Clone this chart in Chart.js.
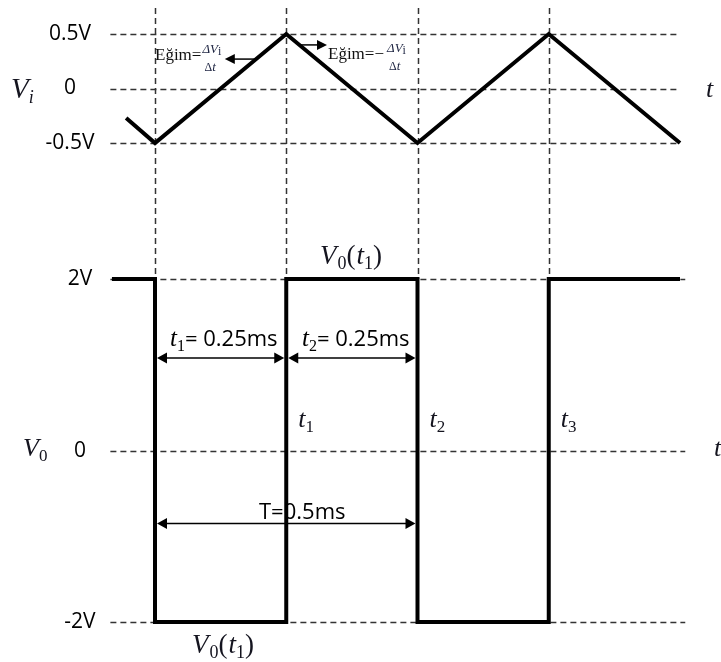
<!DOCTYPE html>
<html>
<head>
<meta charset="utf-8">
<script src="https://cdn.jsdelivr.net/npm/chart.js@4.4.1/dist/chart.umd.min.js"></script>
<style>
  html, body { margin: 0; padding: 0; background: #fff; }
  #wrap { position: relative; width: 721px; height: 662px; }
</style>
</head>
<body>
<div id="wrap"><canvas id="c" width="721" height="662"></canvas></div>
<script>
// Time in ms. Input triangle wave Vi and comparator output V0.
const viTimes  = [-0.055, 0, 0.25, 0.5, 0.75, 1.0];
const viValues = [-0.27, -0.5, 0.5, -0.5, 0.5, -0.5];

const voTimes  = [-0.082, 0, 0, 0.25, 0.25, 0.5, 0.5, 0.75, 0.75, 1.0];
const voValues = [2, 2, -2, -2, 2, 2, -2, -2, 2, 2];

// switching instants (vertical guides)
const edgeTimes = [0, 0.25, 0.5, 0.75];

const viTicks = [0.5, 0, -0.5];
const viTickLabels = ['0.5V', '0', '-0.5V'];
const voTicks = [2, 0, -2];
const voTickLabels = ['2V', '0', '-2V'];

// durations marked with dimension arrows (ms)
const t1Span = [0, 0.25];
const t2Span = [0.25, 0.5];
const periodSpan = [0, 0.5];

const SERIF = '"Liberation Serif", "DejaVu Serif", serif';
const SANS = '"Open Sans", "Noto Sans", sans-serif';
const INK = '#000';
const MATH = '#14141f';

function drawRuns(ctx, x, y, runs, color) {
  ctx.save();
  ctx.fillStyle = color || MATH;
  ctx.textBaseline = 'alphabetic';
  ctx.textAlign = 'left';
  let cx = x;
  for (const r of runs) {
    ctx.font = r.f;
    ctx.fillText(r.t, cx, y + (r.dy || 0));
    cx += ctx.measureText(r.t).width + (r.gap || 0);
  }
  ctx.restore();
  return cx;
}

function arrowHead(ctx, tipX, tipY, dir, len, half) {
  ctx.beginPath();
  ctx.moveTo(tipX, tipY);
  ctx.lineTo(tipX - dir * len, tipY - half);
  ctx.lineTo(tipX - dir * len, tipY + half);
  ctx.closePath();
  ctx.fill();
}

function dimArrow(ctx, x1, x2, y) {
  ctx.save();
  ctx.strokeStyle = INK; ctx.fillStyle = INK; ctx.lineWidth = 1.5;
  ctx.beginPath(); ctx.moveTo(x1 + 8, y); ctx.lineTo(x2 - 8, y); ctx.stroke();
  arrowHead(ctx, x1, y, -1, 10, 5.5);
  arrowHead(ctx, x2, y, 1, 10, 5.5);
  ctx.restore();
}

function oneArrow(ctx, xFrom, xTo, y) {
  ctx.save();
  ctx.strokeStyle = INK; ctx.fillStyle = INK; ctx.lineWidth = 1.5;
  const dir = xTo > xFrom ? 1 : -1;
  ctx.beginPath(); ctx.moveTo(xFrom, y); ctx.lineTo(xTo - dir * 8, y); ctx.stroke();
  arrowHead(ctx, xTo, y, dir, 10, 5);
  ctx.restore();
}

const guides = {
  id: 'guides',
  beforeDatasetsDraw(chart) {
    const { ctx, scales: { x, yVi, yVo } } = chart;
    ctx.save();
    ctx.strokeStyle = '#333';
    ctx.lineWidth = 1.5;
    ctx.setLineDash([6, 4]);
    const gx0 = x.getPixelForValue(-0.085);
    const gx1 = x.getPixelForValue(1.0);
    for (const v of viTicks) {
      const py = Math.round(yVi.getPixelForValue(v)) + 0.5;
      ctx.beginPath(); ctx.moveTo(gx0, py); ctx.lineTo(gx1, py); ctx.stroke();
    }
    for (const v of voTicks) {
      const py = Math.round(yVo.getPixelForValue(v)) + 0.5;
      ctx.beginPath(); ctx.moveTo(gx0, py); ctx.lineTo(x.getPixelForValue(1.01), py); ctx.stroke();
    }
    const top = chart.chartArea.top + 8;
    const bottom = yVo.getPixelForValue(2);
    for (const t of edgeTimes) {
      const px = Math.round(x.getPixelForValue(t)) + 0.5;
      ctx.beginPath(); ctx.moveTo(px, top); ctx.lineTo(px, bottom); ctx.stroke();
    }
    ctx.restore();
  },
  afterDatasetsDraw(chart) {
    const { ctx, scales: { x, yVi, yVo } } = chart;

    // tick labels
    ctx.save();
    ctx.fillStyle = INK;
    ctx.font = '21px ' + SANS;
    ctx.textAlign = 'center';
    ctx.textBaseline = 'middle';
    viTicks.forEach((v, i) => ctx.fillText(viTickLabels[i], 70, yVi.getPixelForValue(v)));
    voTicks.forEach((v, i) => ctx.fillText(voTickLabels[i], 80, yVo.getPixelForValue(v)));
    ctx.restore();

    // axis names
    drawRuns(ctx, 11, yVi.getPixelForValue(0) + 9, [
      { t: 'V', f: 'italic 29px ' + SERIF },
      { t: 'i', f: 'italic 18px ' + SERIF, dy: 5 }
    ]);
    drawRuns(ctx, 23, yVo.getPixelForValue(0) + 5, [
      { t: 'V', f: 'italic 26px ' + SERIF },
      { t: '0', f: '17px ' + SERIF, dy: 5 }
    ]);
    drawRuns(ctx, 706, yVi.getPixelForValue(0) + 8, [{ t: 't', f: 'italic 26px ' + SERIF }]);
    drawRuns(ctx, 714, yVo.getPixelForValue(0) + 5, [{ t: 't', f: 'italic 26px ' + SERIF }]);

    // switching instants
    const instants = [['1', 0.25], ['2', 0.5], ['3', 0.75]];
    for (const [s, t] of instants) {
      drawRuns(ctx, x.getPixelForValue(t) + 12, 427, [
        { t: 't', f: 'italic 26px ' + SERIF },
        { t: s, f: '17px ' + SERIF, dy: 5 }
      ]);
    }

    // output level labels
    const v0t1 = [
      { t: 'V', f: 'italic 27px ' + SERIF, gap: 1 },
      { t: '0', f: '18px ' + SERIF, dy: 5 },
      { t: '(', f: '27px ' + SERIF, gap: 1 },
      { t: 't', f: 'italic 27px ' + SERIF },
      { t: '1', f: '18px ' + SERIF, dy: 5 },
      { t: ')', f: '27px ' + SERIF }
    ];
    drawRuns(ctx, 320, yVo.getPixelForValue(2) - 15, v0t1);
    drawRuns(ctx, 192, yVo.getPixelForValue(-2) + 31, v0t1);

    // dimension arrows
    const edgeHalf = 2;
    const dimY = yVo.getPixelForValue(1.08);
    dimArrow(ctx, x.getPixelForValue(t1Span[0]) + edgeHalf, x.getPixelForValue(t1Span[1]) - edgeHalf, dimY);
    dimArrow(ctx, x.getPixelForValue(t2Span[0]) + edgeHalf, x.getPixelForValue(t2Span[1]) - edgeHalf, dimY);
    const perY = yVo.getPixelForValue(-0.85);
    dimArrow(ctx, x.getPixelForValue(periodSpan[0]) + edgeHalf, x.getPixelForValue(periodSpan[1]) - edgeHalf, perY);

    const dimText = (px, label, span) => drawRuns(ctx, px, dimY - 12, [
      { t: 't', f: 'italic 25px ' + SERIF },
      { t: label, f: '16px ' + SERIF, dy: 5 },
      { t: '= ' + (span[1] - span[0]) + 'ms', f: '22px ' + SANS }
    ], INK);
    dimText(170, '1', t1Span);
    dimText(302, '2', t2Span);
    drawRuns(ctx, 259, perY - 4, [{ t: 'T=' + (periodSpan[1] - periodSpan[0]) + 'ms', f: '22px ' + SANS }], INK);

    // slope annotations
    const riseY = yVi.getPixelForValue(0.27);
    oneArrow(ctx, x.getPixelForValue(0.1925), x.getPixelForValue(0.133), riseY);
    let ex = drawRuns(ctx, 155, 60, [{ t: 'Eğim=', f: '17px ' + SERIF }], '#111');
    drawRuns(ctx, ex + 1, 53, [
      { t: 'ΔV', f: 'italic 13px ' + SERIF },
      { t: 'i', f: '12px ' + SERIF, dy: 2 }
    ], '#1c2340');
    drawRuns(ctx, ex + 3, 71, [{ t: 'Δ', f: '12px ' + SERIF }, { t: 't', f: 'italic 13px ' + SERIF }], '#1c2340');

    const fallY = yVi.getPixelForValue(0.4);
    oneArrow(ctx, x.getPixelForValue(0.275), x.getPixelForValue(0.3276), fallY);
    ex = drawRuns(ctx, 328, 59, [{ t: 'Eğim=−', f: '17px ' + SERIF }], '#111');
    drawRuns(ctx, ex + 3, 52, [
      { t: 'ΔV', f: 'italic 13px ' + SERIF },
      { t: 'i', f: '12px ' + SERIF, dy: 2 }
    ], '#1c2340');
    drawRuns(ctx, ex + 5, 70, [{ t: 'Δ', f: '12px ' + SERIF }, { t: 't', f: 'italic 13px ' + SERIF }], '#1c2340');
  }
};

const lineStyle = {
  borderColor: '#000',
  borderWidth: 4,
  pointRadius: 0,
  tension: 0,
  fill: false,
  borderJoinStyle: 'miter',
  borderCapStyle: 'butt',
  clip: false
};

new Chart(document.getElementById('c'), {
  type: 'line',
  data: {
    datasets: [
      Object.assign({ label: 'Vi', yAxisID: 'yVi',
        data: viTimes.map((t, i) => ({ x: t, y: viValues[i] })) }, lineStyle),
      Object.assign({ label: 'V0', yAxisID: 'yVo',
        data: voTimes.map((t, i) => ({ x: t, y: voValues[i] })) }, lineStyle)
    ]
  },
  options: {
    responsive: false,
    animation: false,
    events: [],
    layout: { padding: { left: 102.5, right: 41, top: 0, bottom: 0 } },
    plugins: { legend: { display: false }, tooltip: { enabled: false } },
    scales: {
      x: { type: 'linear', min: -0.1, max: 1.0, display: false },
      yVi: { type: 'linear', min: -5.261, max: 0.812, display: false },
      yVo: { type: 'linear', min: -2.466, max: 5.254, display: false }
    }
  },
  plugins: [guides]
});
</script>
</body>
</html>
